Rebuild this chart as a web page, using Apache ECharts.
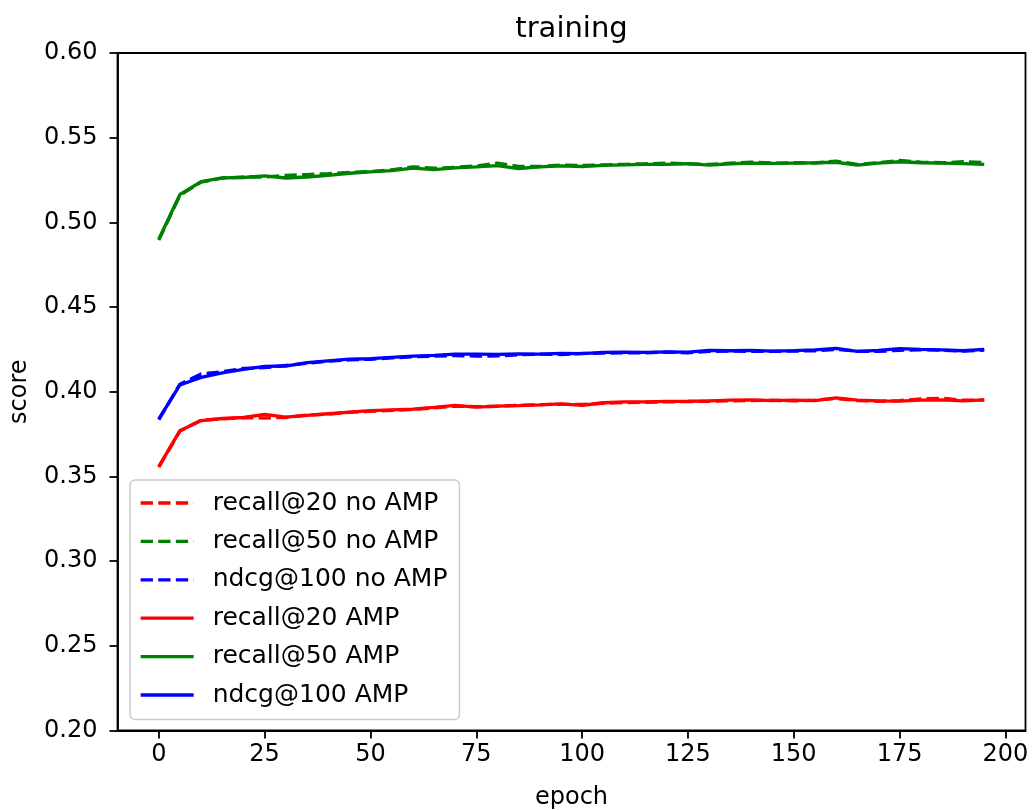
<!DOCTYPE html>
<html>
<head>
<meta charset="utf-8">
<title>training</title>
<script src="https://cdn.jsdelivr.net/npm/echarts@6/dist/echarts.min.js"></script>
<style>
    html, body { margin: 0; padding: 0; background: #fff; }
    #training-chart { width: 1033px; height: 810px; }
</style>
</head>
<body>
<div id="training-chart"></div>
<script>
const epochs = [0, 5, 10, 15, 20, 25, 30, 35, 40, 45, 50, 55, 60, 65, 70, 75, 80, 85, 90, 95,
    100, 105, 110, 115, 120, 125, 130, 135, 140, 145, 150, 155, 160, 165, 170, 175, 180, 185, 190, 195];

const recall20NoAmp = [0.3555, 0.3768, 0.3832, 0.3840, 0.3846, 0.3845, 0.3848, 0.3862, 0.3868, 0.3878,
    0.3884, 0.3890, 0.3895, 0.3905, 0.3915, 0.3912, 0.3914, 0.3920, 0.3924, 0.3926,
    0.3925, 0.3932, 0.3936, 0.3938, 0.3940, 0.3942, 0.3944, 0.3946, 0.3948, 0.3950,
    0.3946, 0.3950, 0.3960, 0.3948, 0.3944, 0.3948, 0.3958, 0.3962, 0.3950, 0.3950];
const recall50NoAmp = [0.4895, 0.5160, 0.5238, 0.5262, 0.5268, 0.5268, 0.5278, 0.5282, 0.5288, 0.5295,
    0.5300, 0.5310, 0.5328, 0.5320, 0.5325, 0.5333, 0.5350, 0.5330, 0.5330, 0.5338,
    0.5336, 0.5340, 0.5343, 0.5346, 0.5350, 0.5345, 0.5342, 0.5350, 0.5356, 0.5350,
    0.5352, 0.5350, 0.5362, 0.5342, 0.5352, 0.5366, 0.5356, 0.5352, 0.5358, 0.5354];
const ndcg100NoAmp = [0.3835, 0.4045, 0.4105, 0.4118, 0.4138, 0.4142, 0.4155, 0.4168, 0.4180, 0.4188,
    0.4192, 0.4200, 0.4206, 0.4210, 0.4214, 0.4210, 0.4212, 0.4218, 0.4222, 0.4220,
    0.4226, 0.4228, 0.4230, 0.4230, 0.4234, 0.4230, 0.4238, 0.4240, 0.4238, 0.4238,
    0.4240, 0.4242, 0.4250, 0.4240, 0.4238, 0.4245, 0.4248, 0.4245, 0.4240, 0.4246];
const recall20Amp = [0.3558, 0.3770, 0.3830, 0.3842, 0.3848, 0.3866, 0.3850, 0.3860, 0.3870, 0.3880,
    0.3888, 0.3893, 0.3898, 0.3908, 0.3920, 0.3909, 0.3915, 0.3918, 0.3922, 0.3928,
    0.3920, 0.3935, 0.3940, 0.3940, 0.3943, 0.3944, 0.3946, 0.3950, 0.3952, 0.3948,
    0.3950, 0.3948, 0.3964, 0.3950, 0.3946, 0.3945, 0.3950, 0.3952, 0.3946, 0.3952];
const recall50Amp = [0.4900, 0.5165, 0.5240, 0.5263, 0.5265, 0.5275, 0.5262, 0.5268, 0.5278, 0.5290,
    0.5298, 0.5305, 0.5320, 0.5312, 0.5322, 0.5328, 0.5335, 0.5318, 0.5328, 0.5333,
    0.5330, 0.5336, 0.5340, 0.5342, 0.5343, 0.5347, 0.5338, 0.5346, 0.5350, 0.5348,
    0.5350, 0.5352, 0.5355, 0.5338, 0.5350, 0.5358, 0.5352, 0.5350, 0.5347, 0.5342];
const ndcg100Amp = [0.3838, 0.4040, 0.4085, 0.4112, 0.4132, 0.4150, 0.4152, 0.4172, 0.4182, 0.4192,
    0.4195, 0.4203, 0.4210, 0.4215, 0.4222, 0.4222, 0.4221, 0.4223, 0.4222, 0.4226,
    0.4225, 0.4232, 0.4234, 0.4232, 0.4236, 0.4234, 0.4244, 0.4242, 0.4244, 0.4240,
    0.4243, 0.4247, 0.4256, 0.4238, 0.4244, 0.4255, 0.4250, 0.4247, 0.4242, 0.4250];

const xTicks = [0, 25, 50, 75, 100, 125, 150, 175, 200];

const FONT = "DejaVu Sans";
const dash = [12.3, 5.3];

function line(name, values, color, dashed) {
    return {
        name: name,
        type: 'line',
        data: epochs.map((e, i) => [e, values[i]]),
        showSymbol: false,
        symbol: 'none',
        smooth: false,
        animation: false,
        itemStyle: { color: color },
        lineStyle: { color: color, width: 3.3, type: dashed ? dash : 'solid' },
    };
}

const chart = echarts.init(document.getElementById('training-chart'), null, { renderer: 'canvas' });

const option = {
    animation: false,
    backgroundColor: '#fff',
    title: {
        text: 'training',
        left: 571.5,
        textAlign: 'center',
        top: 15,
        padding: 0,
        textStyle: { fontFamily: FONT, fontSize: 29, fontWeight: 'normal', color: '#000' },
    },
    grid: {
        left: 117.5,
        right: 7.5,
        top: 53,
        bottom: 79.5,
        // keep the plot box where it is, even if the axis names reach the edge
        outerBoundsMode: 'none',
        containLabel: false,
        show: true,
        borderColor: '#000',
        borderWidth: 1.8,
        backgroundColor: 'transparent',
    },
    legend: {
        orient: 'vertical',
        left: 130,
        top: 480,
        padding: [10.5, 12, 12, 9],
        itemWidth: 53,
        itemHeight: 14,
        itemGap: 13.4,
        backgroundColor: 'rgba(255,255,255,0.8)',
        borderColor: '#cccccc',
        borderWidth: 1.5,
        borderRadius: 5,
        // hide the symbol that ECharts puts in the middle of line legend icons
        itemStyle: { opacity: 0 },
        lineStyle: { width: 3.3 },
        textStyle: {
            fontFamily: FONT, fontSize: 25, color: '#000', lineHeight: 24,
            padding: [0, 0, 0, 14],
        },
        data: ['recall@20 no AMP', 'recall@50 no AMP', 'ndcg@100 no AMP',
            'recall@20 AMP', 'recall@50 AMP', 'ndcg@100 AMP'],
    },
    xAxis: {
        type: 'value',
        min: -9.75,
        max: 204.75,
        name: 'epoch',
        nameLocation: 'middle',
        nameGap: 55,
        nameTextStyle: { fontFamily: FONT, fontSize: 24, color: '#000' },
        splitLine: { show: false },
        axisLine: { show: true, onZero: false, lineStyle: { color: '#000', width: 1.8 } },
        axisTick: { show: true, length: 8, lineStyle: { color: '#000', width: 1.8 }, customValues: xTicks },
        axisLabel: {
            fontFamily: FONT, fontSize: 24, color: '#000', margin: 12,
            customValues: xTicks,
        },
    },
    yAxis: {
        type: 'value',
        min: 0.2,
        max: 0.6,
        interval: 0.05,
        name: 'score',
        nameLocation: 'middle',
        nameGap: 86,
        nameTextStyle: { fontFamily: FONT, fontSize: 24, color: '#000' },
        splitLine: { show: false },
        axisLine: { show: true, onZero: false, lineStyle: { color: '#000', width: 1.8 } },
        axisTick: { show: true, length: 8, lineStyle: { color: '#000', width: 1.8 } },
        axisLabel: {
            fontFamily: FONT, fontSize: 24, color: '#000', margin: 20,
            formatter: (v) => v.toFixed(2),
        },
    },
    series: [
        line('recall@20 no AMP', recall20NoAmp, '#ff0000', true),
        line('recall@50 no AMP', recall50NoAmp, '#008000', true),
        line('ndcg@100 no AMP', ndcg100NoAmp, '#0000ff', true),
        line('recall@20 AMP', recall20Amp, '#ff0000', false),
        line('recall@50 AMP', recall50Amp, '#008000', false),
        line('ndcg@100 AMP', ndcg100Amp, '#0000ff', false),
    ],
};

chart.setOption(option);
</script>
</body>
</html>
